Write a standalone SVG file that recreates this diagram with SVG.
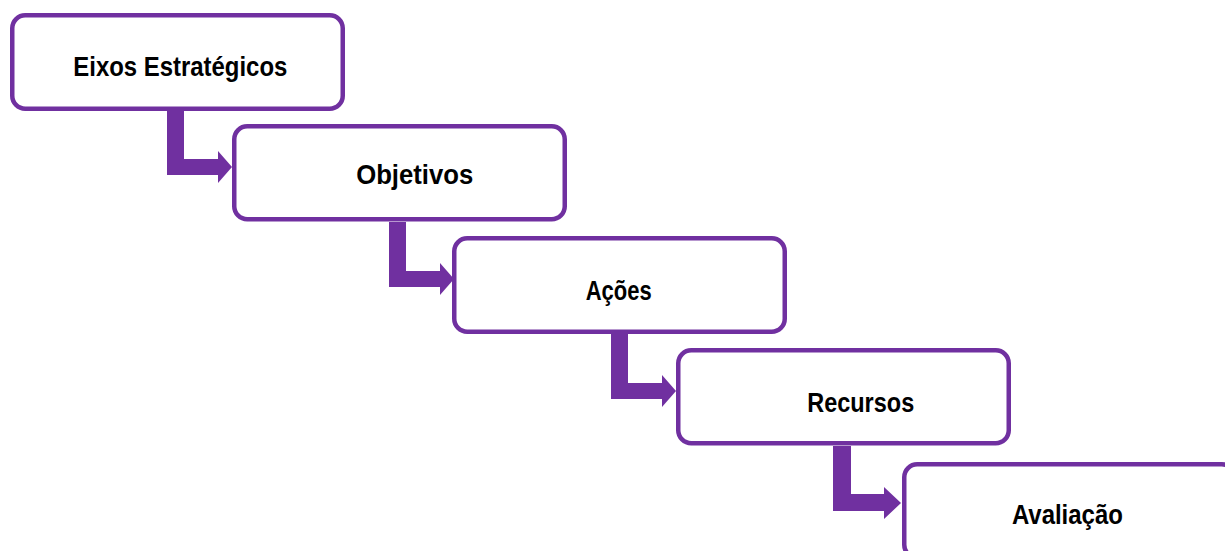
<svg xmlns="http://www.w3.org/2000/svg" width="1225" height="551" viewBox="0 0 1225 551">
<style>
.box{fill:#FFFFFF;stroke:#7030A0;stroke-width:4.5}
.lbl{font-family:"Liberation Sans",Arial,sans-serif;font-weight:bold;font-size:27px;fill:#000000;text-anchor:middle}
.arr{fill:#7030A0}
</style>
<rect width="1225" height="551" fill="#FFFFFF"/>
<g id="connectors">
<path class="arr" d="M167 111 H184 V159 H218 V151 L232 167 L218 183 V175 H167 Z"/>
<path class="arr" d="M389 222 H406 V271 H440 V263 L454 279 L440 295 V287 H389 Z"/>
<path class="arr" d="M611 334 H628 V383 H662 V375 L676 391 L662 407 V399 H611 Z"/>
<path class="arr" d="M833 446 H851 V494 H884 V487 L901 503 L884 519 V511 H833 Z"/>
</g>
<g id="node1">
<rect class="box" x="12.25" y="15.25" width="330.5" height="93.5" rx="13"/>
<text class="lbl" x="180.3" y="76" textLength="214" lengthAdjust="spacingAndGlyphs">Eixos Estratégicos</text>
</g>
<g id="node2">
<rect class="box" x="234.25" y="126.25" width="330.5" height="93" rx="13"/>
<text class="lbl" x="414.7" y="184.3" textLength="117" lengthAdjust="spacingAndGlyphs">Objetivos</text>
</g>
<g id="node3">
<rect class="box" x="454.25" y="238.25" width="330.5" height="93.5" rx="13"/>
<text class="lbl" x="618.7" y="300" textLength="66" lengthAdjust="spacingAndGlyphs">Ações</text>
</g>
<g id="node4">
<rect class="box" x="678.25" y="350.25" width="330.5" height="93" rx="13"/>
<text class="lbl" x="860.7" y="411.7" textLength="107" lengthAdjust="spacingAndGlyphs">Recursos</text>
</g>
<g id="node5">
<rect class="box" x="904.25" y="464.25" width="330.5" height="93.5" rx="13"/>
<text class="lbl" x="1067.4" y="524" textLength="111" lengthAdjust="spacingAndGlyphs">Avaliação</text>
</g>
</svg>
